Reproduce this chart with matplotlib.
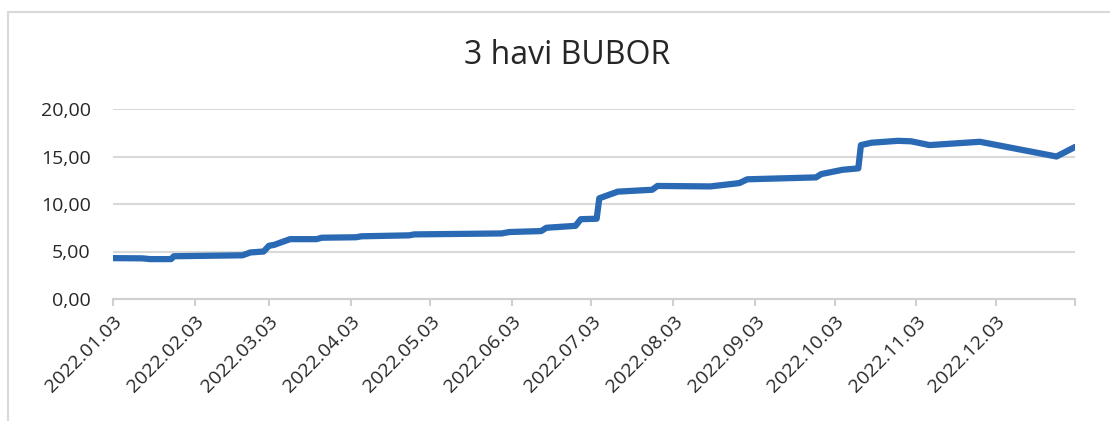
import matplotlib
matplotlib.use('Agg')
import matplotlib.pyplot as plt
from matplotlib.patches import Rectangle
import numpy as np
from datetime import date

plt.rcParams['font.family'] = ['Open Sans', 'DejaVu Sans']

# 3 havi BUBOR
datumok = ['2022-01-03', '2022-01-14', '2022-01-17', '2022-01-25', '2022-01-26',
           '2022-02-21', '2022-02-24', '2022-03-01', '2022-03-03', '2022-03-05',
           '2022-03-11', '2022-03-21', '2022-03-23', '2022-04-05', '2022-04-07',
           '2022-04-25', '2022-04-27', '2022-05-30', '2022-06-02', '2022-06-14',
           '2022-06-16', '2022-06-27', '2022-06-29', '2022-07-05', '2022-07-06',
           '2022-07-13', '2022-07-26', '2022-07-28', '2022-08-17', '2022-08-28',
           '2022-08-31', '2022-09-26', '2022-09-28', '2022-10-06', '2022-10-12',
           '2022-10-13', '2022-10-17', '2022-10-27', '2022-11-01', '2022-11-08',
           '2022-11-27', '2022-12-26', '2023-01-02']
ertekek = [4.30, 4.28, 4.20, 4.20, 4.50,
           4.60, 4.90, 5.00, 5.60, 5.70,
           6.30, 6.30, 6.45, 6.50, 6.60,
           6.70, 6.80, 6.90, 7.05, 7.15,
           7.50, 7.70, 8.40, 8.45, 10.60,
           11.30, 11.50, 11.90, 11.85, 12.20,
           12.60, 12.80, 13.15, 13.60, 13.75,
           16.20, 16.45, 16.65, 16.60, 16.20,
           16.55, 15.00, 16.00]
y_tickek = [0, 5, 10, 15, 20]
tick_honapok = list(range(1, 13))

x = np.array(datumok, dtype='datetime64[D]').astype('O')

fig = plt.figure(figsize=(11.10, 4.21), dpi=100)
ax = fig.add_axes([113/1110, 1-299/421, (1075-113)/1110, (299-109)/421])

# keret
fig.patches.append(Rectangle((8/1110, -0.1), 1.2, (1-12/421)+0.1, transform=fig.transFigure,
                             fill=False, edgecolor='#d9d9d9', linewidth=1.5))

ax.plot(x, ertekek, color='#2a69b3', linewidth=4.5, solid_joinstyle='round', solid_capstyle='round')

ax.set_ylim(0, 20)
ax.set_yticks(y_tickek)
ax.set_yticklabels([('%.2f' % v).replace('.', ',') for v in y_tickek], fontsize=14, color='#262626')
ax.set_xlim(date(2022, 1, 3), date(2023, 1, 2))
ticks = [date(2022, m, 3) for m in tick_honapok]
ax.set_xticks(ticks + [date(2023, 1, 2)])
labels = [d.strftime('%Y.%m.%d') for d in ticks] + ['']
ax.set_xticklabels(labels, rotation=45, ha='right', rotation_mode='anchor', fontsize=14, color='#262626')

ax.grid(axis='y', color='#d9d9d9', linewidth=1.5)
ax.set_axisbelow(True)
for s in ['top', 'right', 'left']:
    ax.spines[s].set_visible(False)
ax.spines['bottom'].set_color('#d0d0d0')
ax.spines['bottom'].set_linewidth(1.5)
ax.tick_params(axis='y', length=0, pad=16)
ax.tick_params(axis='x', length=5, color='#d0d0d0', width=1.5, pad=5)

fig.text(567/1110, 1-55/421, '3 havi BUBOR', ha='center', va='center', fontsize=23, color='#262626')

fig.savefig('out.png', dpi=100, facecolor='white')
